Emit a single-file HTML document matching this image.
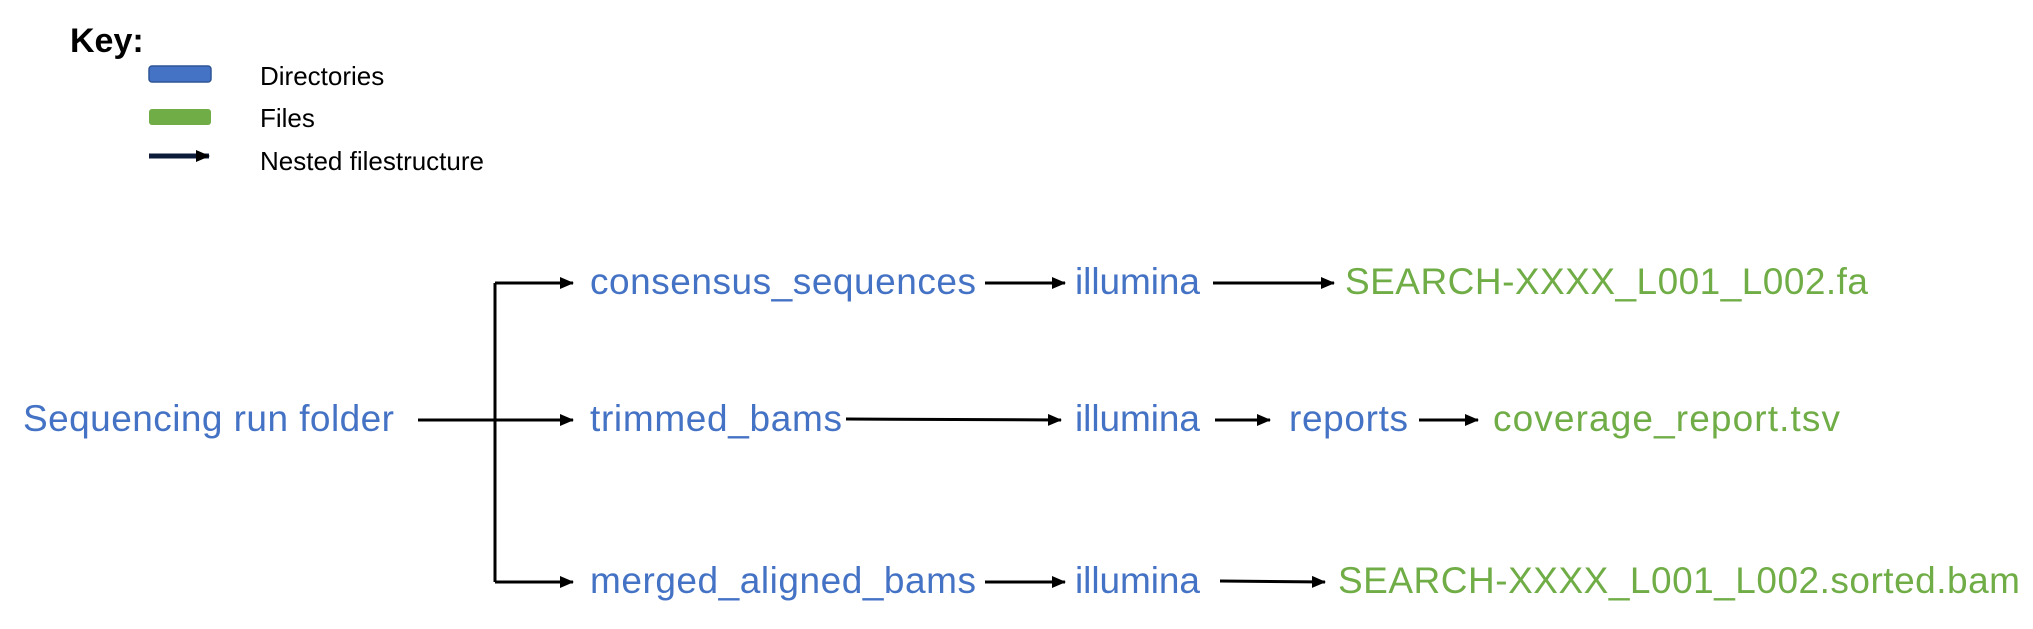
<!DOCTYPE html>
<html><head><meta charset="utf-8"><style>
html,body{margin:0;padding:0;background:#fff;}
svg{display:block;font-family:"Liberation Sans",Arial,sans-serif;}
</style></head><body>
<svg width="2033" height="629" viewBox="0 0 2033 629">
<defs><marker id="ah" markerWidth="16" markerHeight="14" refX="13" refY="6" orient="auto" markerUnits="userSpaceOnUse"><path d="M0,0 L14,6 L0,12 z" fill="#000"/></marker></defs>
<g>
<text x="70" y="52" font-size="34" font-weight="bold" fill="#000">Key:</text>
<rect x="149" y="66" width="62" height="16" rx="3" fill="#4472C4" stroke="#2F5597" stroke-width="1.5"/>
<text x="260" y="85" font-size="26" fill="#000">Directories</text>
<rect x="149" y="109" width="62" height="16" rx="3" fill="#70AD47"/>
<text x="260" y="127" font-size="26" fill="#000">Files</text>
<line x1="149" y1="156" x2="209" y2="156" stroke="#0d1b3a" stroke-width="5" marker-end="url(#ah)"/>
<text x="260" y="170" font-size="26" fill="#000">Nested filestructure</text>
</g>
<g stroke="#000" stroke-width="3" fill="none">
<line x1="418" y1="420" x2="495" y2="420"/>
<line x1="495" y1="283" x2="495" y2="582"/>
<line x1="495" y1="283" x2="573" y2="283" marker-end="url(#ah)"/>
<line x1="495" y1="420" x2="573" y2="420" marker-end="url(#ah)"/>
<line x1="495" y1="582" x2="573" y2="582" marker-end="url(#ah)"/>
<line x1="985" y1="283" x2="1065" y2="283" marker-end="url(#ah)"/>
<line x1="1213" y1="283" x2="1334" y2="283" marker-end="url(#ah)"/>
<line x1="846" y1="419" x2="1061" y2="420" marker-end="url(#ah)"/>
<line x1="1215" y1="420" x2="1270" y2="420" marker-end="url(#ah)"/>
<line x1="1419" y1="420" x2="1478" y2="420" marker-end="url(#ah)"/>
<line x1="985" y1="582" x2="1065" y2="582" marker-end="url(#ah)"/>
<line x1="1220" y1="581" x2="1325" y2="582" marker-end="url(#ah)"/>
</g>
<g font-size="37" fill="#4472C4">
<text x="23" y="431" textLength="371">Sequencing run folder</text>
<text x="590" y="294" textLength="386">consensus_sequences</text>
<text x="590" y="431" textLength="252">trimmed_bams</text>
<text x="590" y="593" textLength="386">merged_aligned_bams</text>
<text x="1075" y="294" textLength="125">illumina</text>
<text x="1075" y="431" textLength="125">illumina</text>
<text x="1075" y="593" textLength="125">illumina</text>
<text x="1289" y="431" textLength="119">reports</text>
</g>
<g font-size="37" fill="#70AD47">
<text x="1345" y="294" textLength="523">SEARCH-XXXX_L001_L002.fa</text>
<text x="1493" y="431" textLength="347">coverage_report.tsv</text>
<text x="1338" y="593" textLength="682">SEARCH-XXXX_L001_L002.sorted.bam</text>
</g>
</svg>
</body></html>
